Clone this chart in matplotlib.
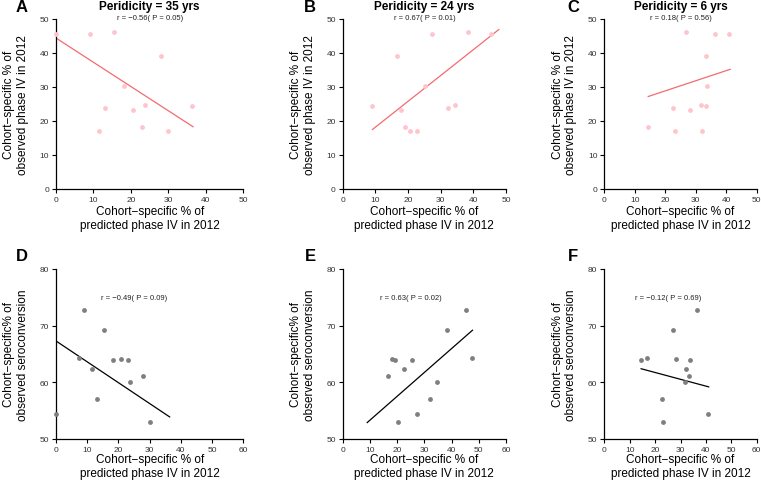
import matplotlib
matplotlib.use("Agg")
import matplotlib.pyplot as plt

plt.rcParams['font.family'] = ['Liberation Sans', 'DejaVu Sans']

W, H = 761, 481

# predicted phase IV (x) per periodicity, observed phase IV (y)
a_x = [0, 9.2, 15.4, 27.9, 18.2, 13.2, 20.6, 23.8, 36.4, 11.5, 23.0, 30.0]
a_y = [45.6, 45.6, 46.3, 39.0, 30.2, 23.9, 23.1, 24.6, 24.3, 17.1, 18.1, 17.2]
b_x = [27.3, 38.4, 45.3, 16.6, 25.3, 9.1, 17.9, 32.1, 34.5, 19.2, 20.5, 22.6]
b_y = [45.6, 46.3, 45.6, 39.0, 30.2, 24.3, 23.1, 23.9, 24.6, 18.1, 17.1, 17.1]
c_x = [26.9, 36.3, 40.9, 33.3, 33.8, 22.7, 28.2, 31.8, 33.3, 14.5, 23.1, 32.1]
c_y = [46.3, 45.6, 45.6, 39.0, 30.2, 23.9, 23.1, 24.6, 24.3, 18.1, 17.2, 17.1]

# predicted phase IV (x) vs observed seroconversion (y)
d_x = [0, 9.1, 15.5, 7.3, 18.2, 20.7, 23.0, 11.5, 27.9, 23.8, 13.2, 30.0]
d_y = [54.5, 72.8, 69.3, 64.3, 63.9, 64.2, 63.9, 62.3, 61.1, 60.0, 57.1, 53.0]
e_x = [45.4, 38.5, 18.0, 19.3, 25.3, 22.6, 16.6, 47.6, 34.5, 32.2, 27.3, 20.4]
e_y = [72.8, 69.3, 64.1, 63.9, 63.9, 62.3, 61.1, 64.3, 60.0, 57.1, 54.5, 53.0]
f_x = [36.3, 27.0, 14.5, 16.8, 28.3, 33.8, 32.1, 33.4, 31.8, 22.6, 40.9, 23.2]
f_y = [72.8, 69.3, 63.9, 64.3, 64.1, 63.9, 62.3, 61.1, 60.0, 57.1, 54.5, 53.0]

# fitted lines ([x0, x1], [y0, y1])
fits = {
    'A': ([0, 36.6], [44.4, 18.3]),
    'B': ([9.1, 47.8], [17.5, 46.9]),
    'C': ([14.4, 41.3], [27.2, 35.2]),
    'D': ([0, 36.4], [67.3, 53.9]),
    'E': ([9.0, 47.7], [52.9, 69.2]),
    'F': ([14.5, 41.1], [62.4, 59.2]),
}

titles = ['Peridicity = 35 yrs', 'Peridicity = 24 yrs', 'Peridicity = 6 yrs']
r_top = ['r = \u22120.56( P = 0.05)', 'r = 0.67( P = 0.01)', 'r = 0.18( P = 0.56)']
r_bot = ['r = \u22120.49( P = 0.09)', 'r = 0.63( P = 0.02)', 'r = \u22120.12( P = 0.69)']

xlab = 'Cohort\u2212specific % of\npredicted phase IV in 2012'
ylab_top = 'Cohort\u2212specific % of\nobserved phase IV in 2012'
ylab_bot = 'Cohort\u2212specific% of\nobserved seroconversion'

cols = [(56, 243.3), (342.7, 506), (604.3, 756.7)]
rows = [(20, 190), (270, 440)]
xlab_off = [16, 14]
letter_x = [22, 310, 573]
letter_y = [8, 257]

fig = plt.figure(figsize=(W / 100, H / 100), dpi=100)

top_data = [(a_x, a_y), (b_x, b_y), (c_x, c_y)]
bot_data = [(d_x, d_y), (e_x, e_y), (f_x, f_y)]
letters = ['ABC', 'DEF']


def style_axes(ax, width_px, height_px, off):
    for s in ['top', 'right']:
        ax.spines[s].set_visible(False)
    for s in ['left', 'bottom']:
        ax.spines[s].set_linewidth(0.9)
    ax.tick_params(length=3, width=0.8, labelsize=6, labelcolor='#333333', pad=2)
    ax.yaxis.set_label_coords(-27 / width_px, 0.5)
    ax.xaxis.set_label_coords(0.5, -off / height_px)


for r, (y0, y1) in enumerate(rows):
    for c, (x0, x1) in enumerate(cols):
        wpx, hpx = x1 - x0, y1 - y0
        ax = fig.add_axes([x0 / W, (H - y1) / H, wpx / W, hpx / H])
        letter = letters[r][c]
        fx, fy = fits[letter]
        if r == 0:
            xs, ys = top_data[c]
            ax.scatter(xs, ys, s=12, color='#FFC4CC', zorder=3, linewidths=0,
                       clip_on=False)
            ax.plot(fx, fy, color='#F26B70', lw=0.9)
            ax.set_xlim(0, 50)
            ax.set_ylim(0, 50)
            ax.set_xticks(range(0, 51, 10))
            ax.set_yticks(range(0, 51, 10))
            ax.set_ylabel(ylab_top, fontsize=8.5, linespacing=1.2)
            ax.text(0.5, 1 + 13 / hpx, titles[c], transform=ax.transAxes,
                    ha='center', va='center', fontsize=8.5, fontweight='bold')
            ax.text(0.5, 1 + 1.5 / hpx, r_top[c], transform=ax.transAxes,
                    ha='center', va='center', fontsize=5.5, color='#222222')
        else:
            xs, ys = bot_data[c]
            ax.scatter(xs, ys, s=12, color='#7F7F7F', zorder=3, linewidths=0,
                       clip_on=False)
            ax.plot(fx, fy, color='black', lw=0.9)
            ax.set_xlim(0, 60)
            ax.set_ylim(50, 80)
            ax.set_xticks(range(0, 61, 10))
            ax.set_yticks(range(50, 81, 10))
            ax.set_ylabel(ylab_bot, fontsize=8.5, linespacing=1.2)
            ax.text(25, 75, r_bot[c], ha='center', va='center', fontsize=5.5,
                    color='#222222')
        ax.set_xlabel(xlab, fontsize=8.5, linespacing=1.2)
        style_axes(ax, wpx, hpx, xlab_off[r])
        fig.text(letter_x[c] / W, 1 - letter_y[r] / H, letter, fontsize=12,
                 fontweight='bold', ha='center', va='center')

fig.savefig('out.png', dpi=100)
